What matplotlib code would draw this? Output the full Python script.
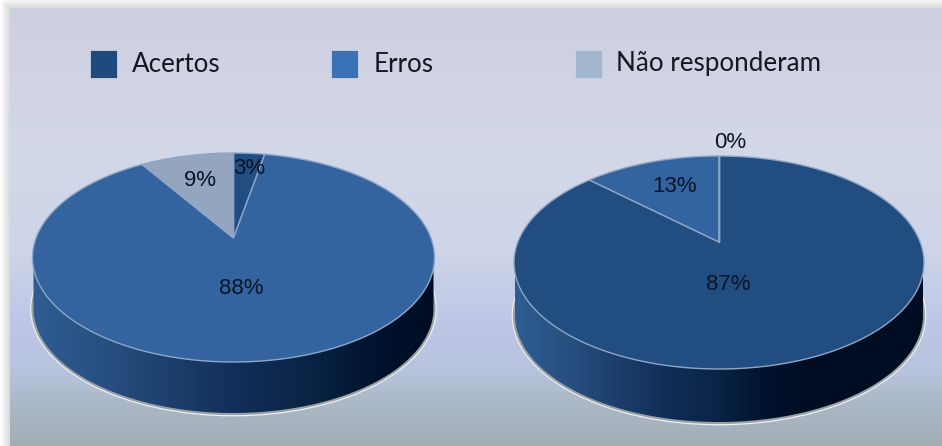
import numpy as np
import matplotlib
matplotlib.use("Agg")
import matplotlib.pyplot as plt
from matplotlib.path import Path
from matplotlib.transforms import Transform
from matplotlib.patches import Ellipse, Rectangle, Polygon
from matplotlib.colors import LinearSegmentedColormap

W, H = 942, 446

categories = ["Acertos", "Erros", "Não responderam"]
colors = ["#224d80", "#33649f", "#94a5c0"]
legend_colors = ["#1f4a7e", "#3a72b8", "#a2b6cf"]

left_values = [3, 88, 9]
right_values = [87, 13, 0]


class Tilt(Transform):
    """Perspective mapping of the unit pie circle onto a tilted disc, in pixels."""
    input_dims = output_dims = 2

    def __init__(self, cx, top, apex, bottom, semi_x):
        super().__init__()
        up, down = apex - top, bottom - apex
        self.k = (down - up) / (down + up)
        self.s = up * (1 + self.k)
        self.w = semi_x * np.sqrt(1 - self.k ** 2)
        self.cx, self.apex = cx, apex

    def transform_non_affine(self, values):
        values = np.asarray(values)
        u, v = values[:, 0], values[:, 1]
        d = 1 + self.k * v
        return np.column_stack((self.cx + self.w * u / d, self.apex - self.s * v / d))

    def transform_path_non_affine(self, path):
        # flatten the curves at high resolution so the mapped outline stays smooth
        scaled = Path(path.vertices * 1000, path.codes)
        polys = scaled.to_polygons(closed_only=True)
        if not polys:
            return Path(self.transform_non_affine(path.vertices), path.codes)
        return Path(self.transform_non_affine(polys[0] / 1000))


fig = plt.figure(figsize=(W / 100, H / 100), dpi=100)
ax = fig.add_axes([0, 0, 1, 1])

# background: panel gradient with a soft shadow at the left and top
stops_y = [0, 8, 150, 250, 320, 370, 400, 446]
stops_r = [204, 204, 211, 206, 190, 184, 172, 162]
stops_g = [207, 207, 216, 213, 199, 195, 185, 173]
stops_b = [224, 224, 232, 232, 230, 222, 200, 179]
yy = np.arange(H)
panel = np.stack([np.interp(yy, stops_y, c) for c in (stops_r, stops_g, stops_b)], axis=1) / 255
bg = np.repeat(panel[:, None, :], W, axis=1)
xx = np.arange(W)
x0, y0 = 10, 8
dist = np.maximum(np.maximum(x0 - xx, 0)[None, :], np.maximum(y0 - yy, 0)[:, None])
inside = dist == 0
grey = 0.85 + 0.15 * np.clip(dist / 10, 0, 1) ** 1.2
img = np.where(inside[..., None], bg, grey[..., None])
ax.imshow(img, extent=(0, W, H, 0), aspect="auto", zorder=0, interpolation="bilinear")

band_cmap = LinearSegmentedColormap.from_list(
    "band", [(0, "#2f5d92"), (0.2, "#264d7e"), (0.5, "#122f59"),
             (0.7, "#0a2344"), (0.85, "#01132e"), (1, "#000d22")])
grad = np.linspace(0, 1, 256)[None, :]


def draw_pie(values, cx, top, apex, bottom, semi_x, depth, band_cut=1.0):
    tf = Tilt(cx, top, apex, bottom, semi_x)
    cy = (top + bottom) / 2
    semi_y = (bottom - top) / 2
    # halo beneath the side wall
    for off, col, lw in ((2.4, "#eef0f6", 1.4), (1.0, "#9aa1a4", 1.6)):
        ax.add_patch(Ellipse((cx, cy + depth), 2 * (semi_x + off - 1), 2 * (semi_y + off),
                             fc="none", ec=col, lw=lw, zorder=1))
    # side wall
    th = np.linspace(0, np.pi, 400)
    xs = cx + (semi_x - 1) * np.cos(th)
    outline = np.concatenate([
        np.column_stack((xs, cy + semi_y * np.sin(th) + depth)),
        np.column_stack((xs[::-1], cy + semi_y * np.sin(th[::-1]))),
    ])
    clip = Polygon(outline, closed=True, transform=ax.transData, fc="none", ec="none")
    ax.add_patch(clip)
    im = ax.imshow(grad, extent=(cx - semi_x, cx + semi_x, cy + semi_y + depth, cy),
                   cmap=band_cmap, vmin=0, vmax=band_cut, aspect="auto", zorder=2)
    im.set_clip_path(clip)
    # top face
    wedges, _ = ax.pie(values, colors=colors, startangle=90, counterclock=False,
                       wedgeprops=dict(linewidth=1.0, edgecolor="#8ea6c8"))
    for w in wedges:
        w.set_transform(tf + ax.transData)
        w.set_zorder(3)
        w.set_clip_on(False)


draw_pie(left_values, 233.5, 153, 238, 362, 201, 51)
draw_pie(right_values, 719, 156, 242, 369, 205, 53, band_cut=0.72)

ax.set_aspect("auto")
ax.set_xlim(0, W)
ax.set_ylim(H, 0)
ax.axis("off")

label_font = ["Liberation Sans"]
left_pos = [(249, 169), (241, 288), (200, 180)]
right_pos = [(728, 284), (675, 187), (730, 143)]
for vals, poss in ((left_values, left_pos), (right_values, right_pos)):
    for v, (px, py) in zip(vals, poss):
        ax.text(px, py, f"{v}%", family=label_font, fontsize=16, color="#0a1428",
                ha="center", va="center", zorder=5)

# legend
swatch_x = [90, 331, 575]
text_x = [132, 374, 616]
for x, tx, c, name in zip(swatch_x, text_x, legend_colors, categories):
    ax.add_patch(Rectangle((x, 50), 27, 28, fc=c, ec="#c9d3e4", lw=0.6, zorder=5))
    ax.text(tx, 64, name, family="Lato", fontsize=18.7, color="#15181f",
            ha="left", va="center", zorder=5)

fig.savefig("out.png", dpi=100)
